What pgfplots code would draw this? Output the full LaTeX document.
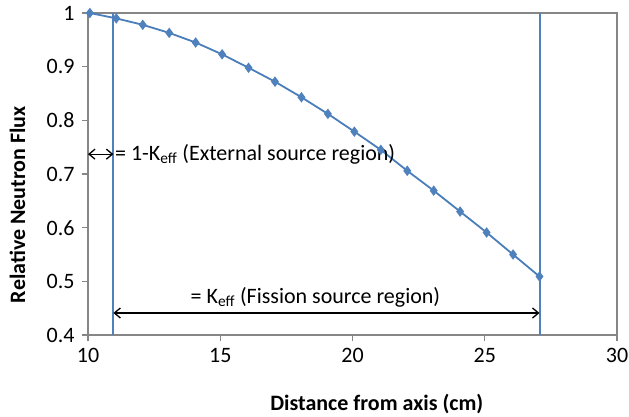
\documentclass[border=0pt]{standalone}
\usepackage{fontspec}
\setmainfont{Carlito}
\usepackage{pgfplots}
\pgfplotsset{compat=1.18}
\usetikzlibrary{arrows.meta}
\definecolor{exblue}{HTML}{4A7EBB}
\definecolor{exmark}{HTML}{4F81BD}
\definecolor{exgray}{HTML}{868686}

\begin{document}
\fontsize{22}{26}\selectfont
\begin{tikzpicture}
\begin{axis}[
  at={(0,0)}, anchor=south west,
  scale only axis, width=529pt, height=322pt,
  xmin=10, xmax=30, ymin=0.4, ymax=1,
  xtick={10,15,20,25,30},
  ytick={0.4,0.5,0.6,0.7,0.8,0.9,1},
  axis line style={exgray, line width=1.2pt},
  tick style={exgray, line width=1.2pt},
  tick align=outside, major tick length=6pt,
  xtick pos=bottom, ytick pos=left,
  tick label style={font=\fontsize{22}{26}\selectfont},
  /pgf/number format/assume math mode=true,
  xlabel={\bfseries Distance from axis (cm)},
  ylabel={\bfseries Relative Neutron Flux},
  every axis x label/.style={at={(axis description cs:0.546,0)}, anchor=center, yshift=-69pt},
  every axis y label/.style={at={(axis description cs:0,0.405)}, xshift=-70.5pt, rotate=90, anchor=center},
  clip=false,
]
% region boundaries (right one first)
\addplot[exmark, line width=1.8pt, mark=none] coordinates {(27.08,0.4) (27.08,1)};
\addplot[exmark, line width=1.8pt, mark=none] coordinates {(10.96,0.4) (10.96,1)};
% flux profile
\addplot[color=exblue, line width=1.8pt, mark=diamond*, mark size=3.8pt,
  mark options={fill=exmark, draw=exmark}] coordinates {
  (10.07,1.000) (11.07,0.990) (12.07,0.978) (13.07,0.963) (14.07,0.945)
  (15.07,0.923) (16.07,0.898) (17.07,0.872) (18.07,0.843) (19.07,0.812)
  (20.07,0.779) (21.07,0.745) (22.07,0.706) (23.07,0.669) (24.07,0.630)
  (25.07,0.591) (26.07,0.550) (27.07,0.509)};
% annotations
\draw[line width=1.3pt, {Straight Barb[length=6pt,width=10pt]}-{Straight Barb[length=6pt,width=10pt]}]
  (axis cs:10,0.737) -- (axis cs:10.96,0.737);
\node[anchor=west, inner sep=1pt] at (axis cs:10.98,0.737)
  {= 1-K\textsubscript{eff} (External source region)};
\draw[line width=1.3pt, {Straight Barb[length=6pt,width=10pt]}-{Straight Barb[length=6pt,width=10pt]}]
  (axis cs:10.96,0.441) -- (axis cs:27.07,0.441);
\node[anchor=center, inner sep=1pt] at (axis cs:18.6,0.471)
  {= K\textsubscript{eff} (Fission source region)};
\end{axis}
\pgfresetboundingbox
\path[use as bounding box] (-88pt,-81pt) rectangle (541pt,335pt);
\end{tikzpicture}
\end{document}
